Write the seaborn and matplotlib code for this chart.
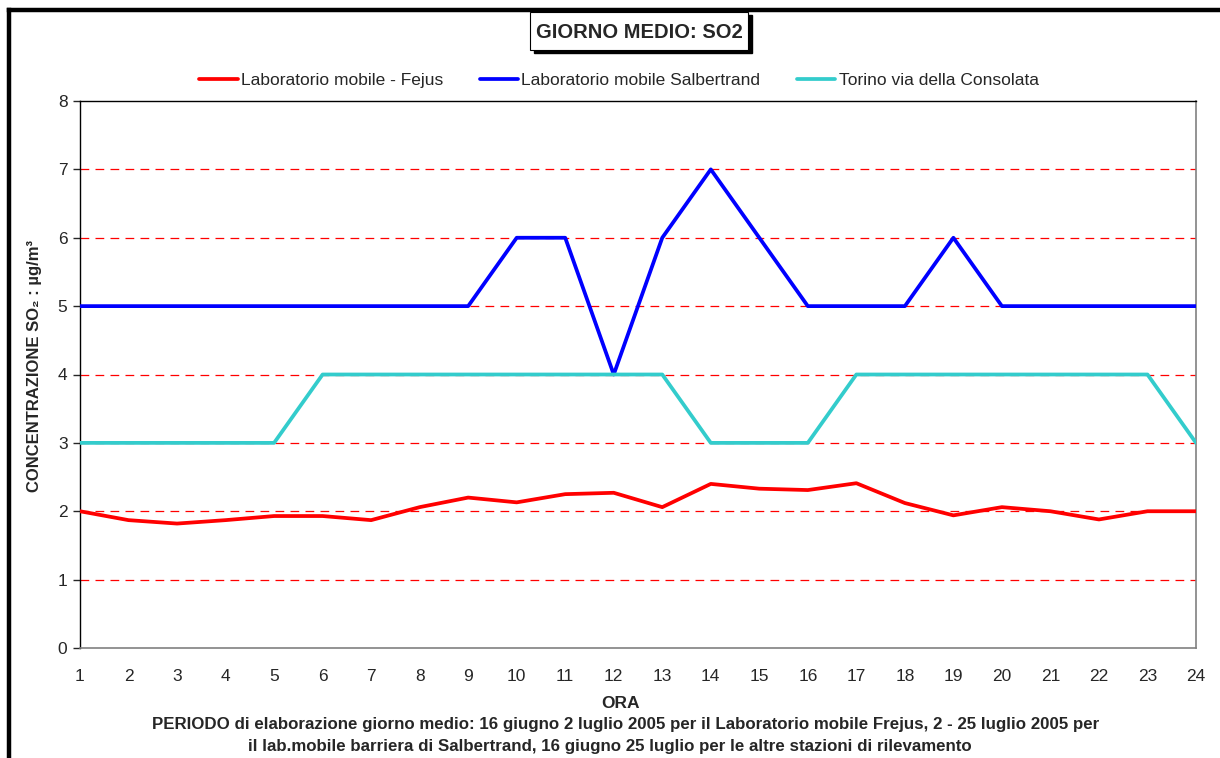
import pandas as pd
import seaborn as sns
import matplotlib.pyplot as plt
from matplotlib.lines import Line2D
from matplotlib.patches import Rectangle

ore = list(range(1, 25))
fejus = [2.0, 1.87, 1.82, 1.87, 1.93, 1.93, 1.87, 2.06, 2.2, 2.13, 2.25, 2.27,
         2.06, 2.4, 2.33, 2.31, 2.41, 2.12, 1.94, 2.06, 2.0, 1.88, 2.0, 2.0]
salbertrand = [5, 5, 5, 5, 5, 5, 5, 5, 5, 6, 6, 4,
               6, 7, 6, 5, 5, 5, 6, 5, 5, 5, 5, 5]
consolata = [3, 3, 3, 3, 3, 4, 4, 4, 4, 4, 4, 4,
             4, 3, 3, 3, 4, 4, 4, 4, 4, 4, 4, 3]
nomi = ['Laboratorio mobile - Fejus', 'Laboratorio mobile Salbertrand',
        'Torino via della Consolata']
colori = ['#FF0000', '#0000FF', '#33CCCC']
yticks = list(range(0, 9))

df = pd.DataFrame({'ora': ore * 3,
                   'valore': fejus + salbertrand + consolata,
                   'stazione': [nomi[0]] * 24 + [nomi[1]] * 24 + [nomi[2]] * 24})

sns.set_style('white')
plt.rcParams['font.family'] = ['Liberation Sans', 'DejaVu Sans']

fig = plt.figure(figsize=(12.2, 7.58), dpi=100)
ax = fig.add_axes([80 / 1220, 1 - 648 / 758, (1196 - 80) / 1220, (648 - 101) / 758])

for y in [1, 2, 3, 4, 5, 6, 7]:
    ax.axhline(y, color='#FF0000', ls=(0, (7, 5)), lw=0.9, zorder=1)

sns.lineplot(data=df, x='ora', y='valore', hue='stazione', palette=dict(zip(nomi, colori)),
             lw=2.7, ax=ax, legend=False, zorder=3)

ax.set_xlim(1, 24)
ax.set_ylim(0, 8)
ax.set_xticks(ore)
ax.set_yticks(yticks)
ax.tick_params(axis='x', length=0, pad=15, labelsize=12.5)
ax.tick_params(axis='y', length=5, width=1, direction='out', left=True, pad=4, labelsize=12.5)
ax.set_xlabel('')
ax.set_ylabel('CONCENTRAZIONE SO₂ : µg/m³', fontsize=12, fontweight='bold')
ax.yaxis.set_label_coords(-0.034, 0.515)
for s in ['left', 'top']:
    ax.spines[s].set_color('black')
    ax.spines[s].set_linewidth(1)
for s in ['right', 'bottom']:
    ax.spines[s].set_color('#808080')
    ax.spines[s].set_linewidth(1.2)

handles = [Line2D([0], [0], color=c, lw=2.7) for c in colori]
fig.legend(handles, nomi, loc='center', bbox_to_anchor=(619 / 1220, 1 - 80 / 758), ncol=3,
           frameon=False, fontsize=12.5, handlelength=2.2, handletextpad=0.2, columnspacing=2.1)

# cornice della figura
fig.add_artist(Line2D([9 / 1220, 9 / 1220], [0, 1 - 10 / 758], color='black', lw=3.2,
                      transform=fig.transFigure, solid_capstyle='projecting'))
fig.add_artist(Line2D([9 / 1220, 1], [1 - 10 / 758, 1 - 10 / 758], color='black', lw=3.2,
                      transform=fig.transFigure, solid_capstyle='projecting'))

# titolo con ombra
fig.add_artist(Rectangle((534 / 1220, 1 - 53 / 758), 218 / 1220, 38 / 758,
                         transform=fig.transFigure, facecolor='black', edgecolor='black'))
fig.add_artist(Rectangle((530 / 1220, 1 - 50 / 758), 218 / 1220, 38 / 758,
                         transform=fig.transFigure, facecolor='white', edgecolor='black', lw=0.8))
fig.text(639 / 1220, 1 - 32 / 758, 'GIORNO MEDIO: SO2', ha='center', va='center',
         fontsize=14.5, fontweight='bold')

fig.text(620 / 1220, 1 - 704 / 758, 'ORA', ha='center', va='center', fontsize=12.5, fontweight='bold')
fig.text(626 / 1220, 1 - 725 / 758,
         'PERIODO di elaborazione giorno medio: 16 giugno 2 luglio 2005 per il Laboratorio mobile Frejus, 2 - 25 luglio 2005 per',
         ha='center', va='center', fontsize=12.2, fontweight='bold')
fig.text(610 / 1220, 1 - 747 / 758,
         'il lab.mobile barriera di Salbertrand, 16 giugno 25 luglio per le altre stazioni di rilevamento',
         ha='center', va='center', fontsize=12.2, fontweight='bold')

fig.savefig('out.png', dpi=100)
